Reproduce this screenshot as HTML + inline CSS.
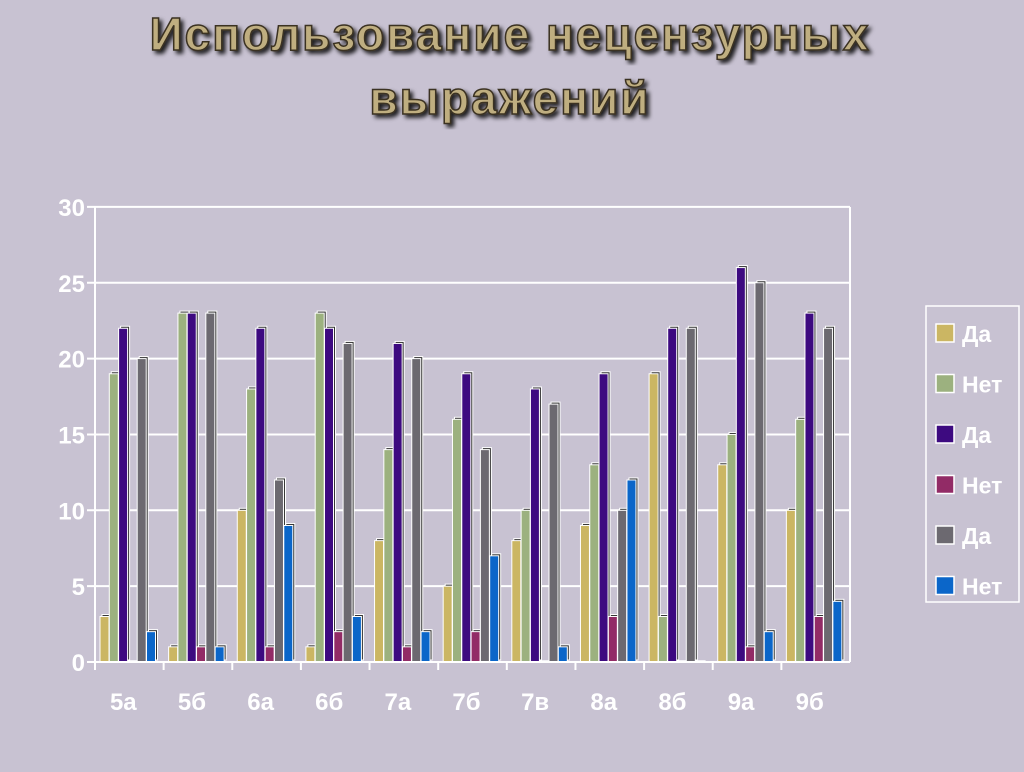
<!DOCTYPE html>
<html><head><meta charset="utf-8"><style>
body{margin:0;width:1024px;height:767px;background:#c8c2d2;overflow:hidden;font-family:"Liberation Sans","DejaVu Sans",sans-serif}
</style></head><body>
<svg id="s" width="1024" height="767" xmlns="http://www.w3.org/2000/svg">
<defs><filter id="sh"><feDropShadow dx="3" dy="3" stdDeviation="2" flood-color="#000" flood-opacity="0.85"/></filter></defs>
<text x="510" y="50" text-anchor="middle" font-size="46" font-weight="bold" fill="#bfae80" stroke="#3a3020" stroke-width="1.5" filter="url(#sh)" letter-spacing="2">Использование нецензурных</text>
<text x="510" y="114" text-anchor="middle" font-size="46" font-weight="bold" fill="#bfae80" stroke="#3a3020" stroke-width="1.5" filter="url(#sh)" letter-spacing="2">выражений</text>
<g id="g"></g>
</svg>
<script>
var g=document.getElementById('g'),h='';
var x0=95,x1=850,y0=662,k=15.17;
for(var i=0;i<=6;i++){var y=y0-i*5*k;h+='<line x1="'+(x0-8)+'" x2="'+x1+'" y1="'+y+'" y2="'+y+'" stroke="#fff" stroke-width="2"/>';
h+='<text x="'+(x0-10)+'" y="'+(y+9)+'" text-anchor="end" font-size="24" font-weight="bold" fill="#fff">'+(i*5)+'</text>';}
h+='<line x1="'+x0+'" x2="'+x0+'" y1="207" y2="'+(y0+8)+'" stroke="#fff" stroke-width="2"/>';
h+='<line x1="'+x1+'" x2="'+x1+'" y1="207" y2="'+y0+'" stroke="#fff" stroke-width="2"/>';
var L=['5а','5б','6а','6б','7а','7б','7в','8а','8б','9а','9б'];
var D=[[3,19,22,0,20,2],[1,23,23,1,23,1],[10,18,22,1,12,9],[1,23,22,2,21,3],[8,14,21,1,20,2],[5,16,19,2,14,7],[8,10,18,0,17,1],[9,13,19,3,10,12],[19,3,22,0,22,0],[13,15,26,1,25,2],[10,16,23,3,22,4]];
var C=['#cbb663','#9cb17f','#3d0a80','#922b66','#6c6970','#0b66c9'];
var gw=(x1-x0)/11;
for(var j=0;j<11;j++){var gx=x0+j*gw;
h+='<line x1="'+gx+'" x2="'+gx+'" y1="'+y0+'" y2="'+(y0+8)+'" stroke="#fff" stroke-width="2"/>';
h+='<text x="'+(gx+gw/2-6)+'" y="710" text-anchor="middle" font-size="24" font-weight="bold" fill="#fff">'+L[j]+'</text>';
for(var b=0;b<6;b++){var v=D[j][b];var bx=gx+5+b*9.3,bh=v*k,by=y0-bh;
if(v>0){h+='<rect x="'+(bx+2)+'" y="'+(by-2)+'" width="9" height="'+bh+'" fill="#333" stroke="#fff" stroke-width="1"/>';
h+='<rect x="'+bx+'" y="'+by+'" width="9" height="'+bh+'" fill="'+C[b]+'" stroke="#fff" stroke-width="1"/>';}
else h+='<line x1="'+bx+'" x2="'+(bx+10)+'" y1="'+(y0-1)+'" y2="'+(y0-1)+'" stroke="#fff" stroke-width="1.5"/>';}}
h+='<line x1="'+x0+'" x2="'+x1+'" y1="'+y0+'" y2="'+y0+'" stroke="#fff" stroke-width="2"/>';
h+='<rect x="926" y="306" width="93" height="296" fill="none" stroke="#fff" stroke-width="1.5"/>';
var T=['Да','Нет','Да','Нет','Да','Нет'];
for(var i=0;i<6;i++){var y=334+i*50.5;
h+='<rect x="936" y="'+(y-10)+'" width="18" height="18" fill="'+C[i]+'" stroke="#fff" stroke-width="1.5"/>';
h+='<text x="962" y="'+(y+8)+'" font-size="23" font-weight="bold" fill="#fff">'+T[i]+'</text>';}
g.innerHTML=h;
</script>
</body></html>
